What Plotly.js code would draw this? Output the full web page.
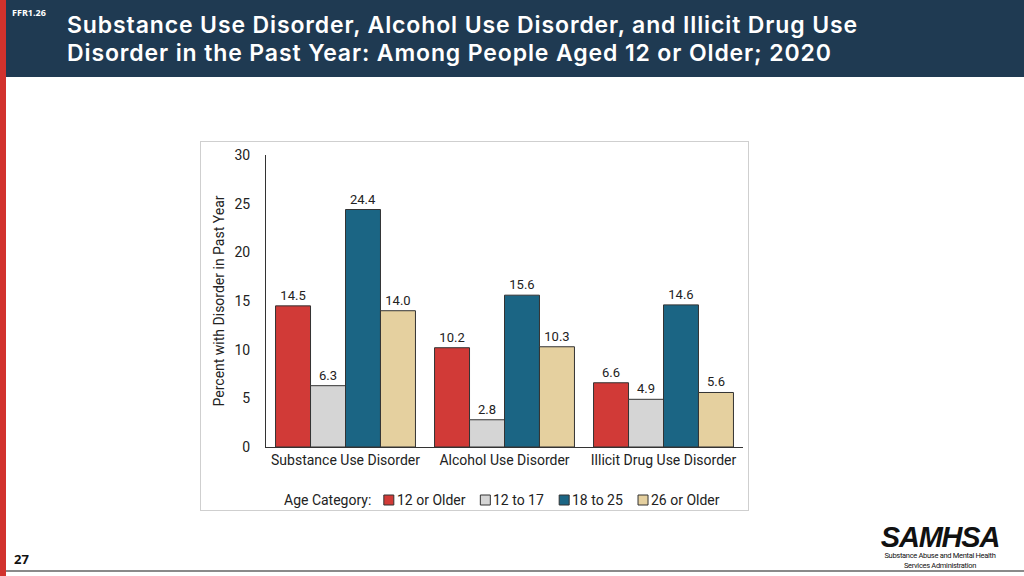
<!DOCTYPE html>
<html><head><meta charset="utf-8">
<script src="https://cdn.plot.ly/plotly-3.0.1.min.js"></script>
<style>
html,body{margin:0;padding:0;width:1024px;height:576px;overflow:hidden;background:#fff;font-family:"Open Sans","Noto Sans",sans-serif;}
#hdr{position:absolute;left:0;top:0;width:1024px;height:77px;background:#1f3a52;}
#redbar{position:absolute;left:0;top:0;width:6px;height:576px;background:#d2322d;z-index:5;}
#code{position:absolute;left:12px;top:6px;color:#fff;font-size:9px;font-weight:700;}
.tl{position:absolute;left:67px;color:#fff;font-family:Inter,"Open Sans",sans-serif;font-size:23px;font-weight:600;line-height:28px;white-space:nowrap;}
#t1{top:11px;}
#t2{top:39px;}
#chartbox{position:absolute;left:200px;top:141px;width:547px;height:368px;border:1px solid #cfcfcf;}
#chart{width:547px;height:368px;}
#pnum{position:absolute;left:14px;top:550px;font-size:13px;font-weight:700;color:#111;}
#bottomline{position:absolute;left:0;top:570px;width:1024px;height:2px;background:#8a8a8a;}
#logo{position:absolute;left:870px;top:524px;width:140px;text-align:center;color:#111;}
#logo .big{font-family:"Liberation Sans",Arial,sans-serif;font-size:29px;font-weight:900;font-style:italic;letter-spacing:-1.2px;line-height:27px;}
#logo .small{font-family:Roboto,"Liberation Sans",sans-serif;font-size:7.5px;line-height:10px;letter-spacing:-0.3px;}
</style></head>
<body>
<div id="hdr"></div>
<div id="redbar"></div>
<div id="code">FFR1.26</div>
<div class="tl" id="t1">Substance Use Disorder, Alcohol Use Disorder, and Illicit Drug Use</div>
<div class="tl" id="t2">Disorder in the Past Year: Among People Aged 12 or Older; 2020</div>
<div id="chartbox"><div id="chart"></div></div>
<div id="pnum">27</div>
<div id="bottomline"></div>
<div id="logo"><div class="big">SAMHSA</div><div class="small">Substance Abuse and Mental Health<br>Services Administration</div></div>
<script>
// fit header line 1 to the reference width (~791px); apply same spacing to line 2
(function(){
  const t1 = document.getElementById("t1"), t2 = document.getElementById("t2");
  const w = t1.getBoundingClientRect().width;
  const n = t1.textContent.length;
  const ls = Math.max(-1, Math.min(1.5, (791 - w) / n));
  t1.style.letterSpacing = ls + "px";
  t2.style.letterSpacing = ls + "px";
})();

const categories = ["Substance Use Disorder", "Alcohol Use Disorder", "Illicit Drug Use Disorder"];
const seriesNames = ["12 or Older", "12 to 17", "18 to 25", "26 or Older"];
const age12Older = [14.5, 10.2, 6.6];
const age12to17 = [6.3, 2.8, 4.9];
const age18to25 = [24.4, 15.6, 14.6];
const age26Older = [14.0, 10.3, 5.6];
const yTicks = [0, 5, 10, 15, 20, 25, 30];
const legendTitle = "Age Category:";

const colors = ["#d13a37", "#d5d5d5", "#1b6584", "#e5d09f"];
const seriesValues = [age12Older, age12to17, age18to25, age26Older];
const font = "Roboto, 'Liberation Sans', sans-serif";
const W = 547, H = 368;
const M = {l: 65, r: 5, t: 13, b: 63};

const traces = seriesValues.map((vals, i) => ({
  type: "bar",
  name: seriesNames[i],
  x: categories,
  y: vals,
  text: vals.map(v => v.toFixed(1)),
  textposition: "outside",
  cliponaxis: false,
  textfont: {family: font, size: 13, color: "#222"},
  marker: {color: colors[i], line: {color: "#333", width: 1}},
  hoverinfo: "none",
  showlegend: false
}));

// Compact legend row (title + swatches), laid out from measured text widths
const ctx = document.createElement("canvas").getContext("2d");
const legSize = 14;
ctx.font = legSize + "px Roboto";
const tw = s => ctx.measureText(s).width;
const sq = 10, sqGap = 3, itemGap = 15, titleGap = 14;
let total = tw(legendTitle) + titleGap;
seriesNames.forEach((n, i) => { total += sq + sqGap + tw(n) + (i < seriesNames.length - 1 ? itemGap : 0); });
const centerX = 300; // px in chart div
let cx = centerX - total / 2;
const legY = 358; // px from top of chart div
const pw = W - M.l - M.r, ph = H - M.t - M.b;
const toPX = px => (px - M.l) / pw;
const toPY = py => (H - M.b - py) / ph;

const annotations = [{
  xref: "paper", yref: "paper", x: toPX(cx), y: toPY(legY), xanchor: "left", yanchor: "middle",
  text: legendTitle, showarrow: false, font: {family: font, size: legSize, color: "#222"}
}];
const shapes = [];
cx += tw(legendTitle) + titleGap;
seriesNames.forEach((n, i) => {
  shapes.push({type: "rect", xref: "paper", yref: "paper",
    x0: toPX(cx), x1: toPX(cx + sq), y0: toPY(legY + sq / 2), y1: toPY(legY - sq / 2),
    fillcolor: colors[i], line: {color: "#333", width: 1}});
  cx += sq + sqGap;
  annotations.push({xref: "paper", yref: "paper", x: toPX(cx), y: toPY(legY), xanchor: "left", yanchor: "middle",
    text: n, showarrow: false, font: {family: font, size: legSize, color: "#222"}, xshift: -2});
  cx += tw(n) + itemGap;
});

const layout = {
  width: W, height: H,
  margin: M,
  paper_bgcolor: "#fff", plot_bgcolor: "#fff",
  barmode: "group", bargap: 0.12, bargroupgap: 0,
  font: {family: font, color: "#222"},
  xaxis: {
    range: [-0.5, 2.5], showline: true, linecolor: "#333", linewidth: 1,
    ticks: "", tickangle: 0, automargin: false,
    tickfont: {family: font, size: 14, color: "#222"}, fixedrange: true
  },
  yaxis: {
    range: [0, 30], tickvals: yTicks, ticktext: yTicks.map(String),
    showline: true, linecolor: "#333", linewidth: 1, showgrid: false, zeroline: false,
    ticks: "", ticklabelstandoff: 12, automargin: false,
    tickfont: {family: font, size: 14, color: "#222"},
    title: {text: "Percent with Disorder in Past Year", font: {family: font, size: 14, color: "#222"}, standoff: 6},
    fixedrange: true
  },
  showlegend: false,
  annotations: annotations,
  shapes: shapes
};
Plotly.newPlot("chart", traces, layout, {staticPlot: true, displayModeBar: false});
</script>
</body></html>
